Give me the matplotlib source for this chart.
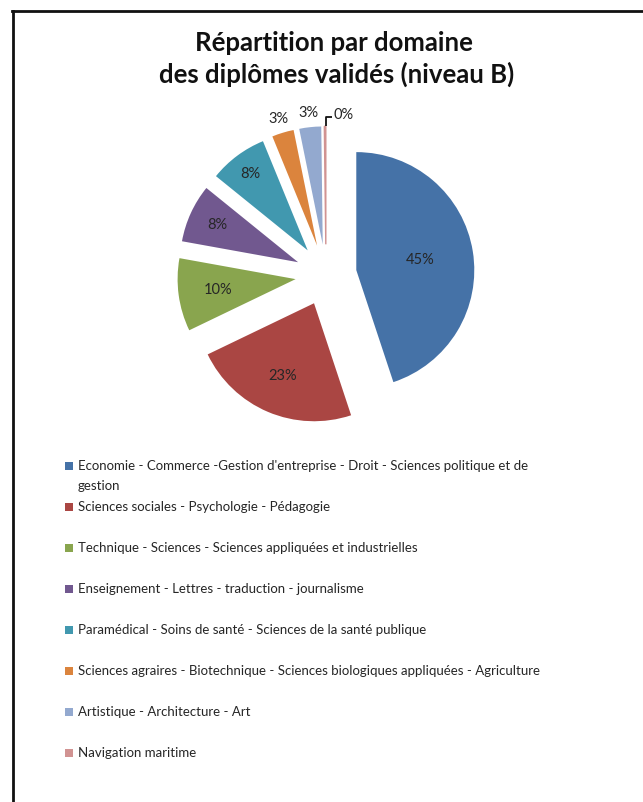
import numpy as np
import matplotlib
matplotlib.use("Agg")
import matplotlib.pyplot as plt
from matplotlib.patches import Rectangle
from matplotlib.lines import Line2D

plt.rcParams['font.family'] = ['Lato', 'DejaVu Sans']

# Data
title_lines = ["Répartition par domaine", "des diplômes validés (niveau B)"]
domains = [
    "Economie - Commerce -Gestion d'entreprise - Droit - Sciences politique et de\ngestion",
    "Sciences sociales - Psychologie - Pédagogie",
    "Technique - Sciences - Sciences appliquées et industrielles",
    "Enseignement - Lettres - traduction - journalisme",
    "Paramédical - Soins de santé - Sciences de la santé publique",
    "Sciences agraires - Biotechnique - Sciences biologiques appliquées - Agriculture",
    "Artistique - Architecture - Art",
    "Navigation maritime",
]
values = [45, 23, 10, 8, 8, 3, 3, 0.2]

# Style
colors = ['#4572A7', '#AA4643', '#89A54E', '#71588F',
          '#4198AF', '#DB843D', '#93A9CF', '#D19392']
label_dist = [0.55, 0.67, 0.66, 0.75, 0.81, 1.12, 1.12, None]

W, H = 643, 802


def fx(x):
    return x / W


def fy(y):
    return 1 - y / H


fig = plt.figure(figsize=(W / 100, H / 100), dpi=100)

# frame of the chart area (top and left edges visible)
fig.add_artist(Line2D([fx(12), 1], [fy(11), fy(11)], color='#111111', lw=2,
                      transform=fig.transFigure))
fig.add_artist(Line2D([fx(13), fx(13)], [fy(11), 0], color='#111111', lw=2,
                      transform=fig.transFigure))

# title
fig.text(fx(334), fy(51), title_lines[0], ha='center', va='baseline',
         fontsize=18.5, fontweight='bold', color='#111111')
fig.text(fx(337), fy(83), title_lines[1], ha='center', va='baseline',
         fontsize=18.5, fontweight='bold', color='#111111')

# pie: centre (326, 275) px, radius 118 px
cx, cy, R = 326, 275, 118
ax = fig.add_axes([fx(cx - 2 * R), fy(cy + 2 * R), 4 * R / W, 4 * R / H])
wedges, _ = ax.pie(values, colors=colors, startangle=90, counterclock=False,
                   explode=[0.26] * len(values), radius=1,
                   wedgeprops=dict(linewidth=0))
wedges[-1].set_edgecolor(colors[-1])
wedges[-1].set_linewidth(1)
ax.set_xlim(-2, 2)
ax.set_ylim(-2, 2)
ax.axis('off')

total = sum(values)
for i, w in enumerate(wedges):
    pct = f"{round(values[i] / total * 100)}%"
    mid = np.deg2rad((w.theta1 + w.theta2) / 2)
    wx, wy = w.center
    if label_dist[i] is not None:
        d = label_dist[i] * w.r
        ax.text(wx + d * np.cos(mid), wy + d * np.sin(mid), pct,
                ha='center', va='center', fontsize=10.5, color='#262626')
    else:
        # leader line for the tiny slice
        x0, y0 = wx + w.r * np.cos(mid), wy + w.r * np.sin(mid)
        x1, y1 = x0 + 0.01, y0 + 0.08
        x2 = x1 + 0.05
        ax.plot([x1, x1, x2], [y0, y1, y1], color='#111111', lw=1.3,
                solid_capstyle='butt')
        ax.text(x2 + 0.01, y1 + 0.02, pct, ha='left', va='center',
                fontsize=10.5, color='#262626')

# legend
for i, name in enumerate(domains):
    y = 466 + 41 * i
    fig.add_artist(Rectangle((fx(65), fy(y + 4)), 8 / W, 8 / H,
                             transform=fig.transFigure, color=colors[i], lw=0))
    fig.text(fx(78), fy(y - 6), name, ha='left', va='top', fontsize=9.5,
             color='#262626', linespacing=1.8)

fig.savefig("out.png", dpi=100)
